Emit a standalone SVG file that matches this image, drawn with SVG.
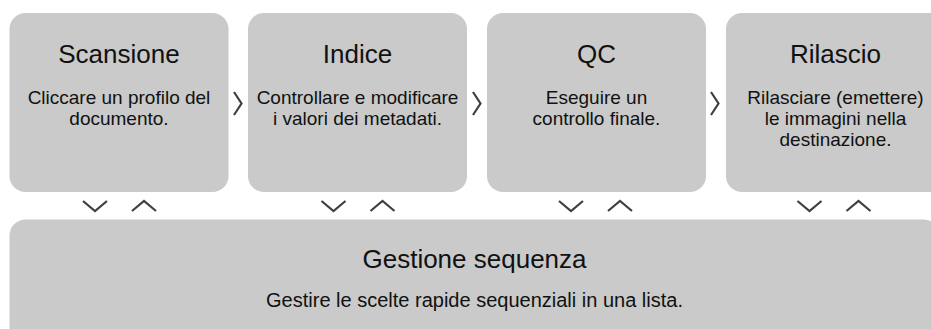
<svg xmlns="http://www.w3.org/2000/svg" width="931" height="329" viewBox="0 0 931 329">
<style>
.box{fill:#c9cac9}
.title{font-family:"Liberation Sans",Arial,sans-serif;font-size:26px;fill:#111;text-anchor:middle}
.body{font-family:"Liberation Sans",Arial,sans-serif;font-size:19px;fill:#111;text-anchor:middle}
.body2{font-family:"Liberation Sans",Arial,sans-serif;font-size:20px;fill:#111;text-anchor:middle}
.chev{fill:none;stroke:#3f3f3f;stroke-width:2.2}
</style>
<rect width="931" height="329" fill="#fff"/>
<g id="scansione">
<rect class="box" x="9.5" y="13" width="219" height="179" rx="16"/>
<text class="title" x="119" y="63">Scansione</text>
<text class="body" x="119" y="104">Cliccare un profilo del</text>
<text class="body" x="119" y="125">documento.</text>
</g>
<g id="indice">
<rect class="box" x="248" y="13" width="219" height="179" rx="16"/>
<text class="title" x="357.5" y="63">Indice</text>
<text class="body" x="357.5" y="104">Controllare e modificare</text>
<text class="body" x="357.5" y="125">i valori dei metadati.</text>
</g>
<g id="qc">
<rect class="box" x="487" y="13" width="219" height="179" rx="16"/>
<text class="title" x="596.5" y="63">QC</text>
<text class="body" x="596.5" y="104">Eseguire un</text>
<text class="body" x="596.5" y="125">controllo finale.</text>
</g>
<g id="rilascio">
<rect class="box" x="726" y="13" width="219" height="179" rx="16"/>
<text class="title" x="835.5" y="63">Rilascio</text>
<text class="body" x="835.5" y="104">Rilasciare (emettere)</text>
<text class="body" x="835.5" y="125">le immagini nella</text>
<text class="body" x="835.5" y="146">destinazione.</text>
</g>
<g id="gestione">
<rect class="box" x="9.5" y="219.5" width="930" height="130" rx="16"/>
<text class="title" x="474.5" y="268">Gestione sequenza</text>
<text class="body2" x="474.5" y="307">Gestire le scelte rapide sequenziali in una lista.</text>
</g>
<g id="connectors">
<polyline class="chev" points="234,92 241.5,103.5 234,115"/>
<polyline class="chev" points="473,92 480.5,103.5 473,115"/>
<polyline class="chev" points="711,92 718.5,103.5 711,115"/>
<polyline class="chev" points="83,201 95,211 107,201"/>
<polyline class="chev" points="132,211 144,201 156,211"/>
<polyline class="chev" points="321.5,201 333.5,211 345.5,201"/>
<polyline class="chev" points="370.5,211 382.5,201 394.5,211"/>
<polyline class="chev" points="559,201 571,211 583,201"/>
<polyline class="chev" points="608,211 620,201 632,211"/>
<polyline class="chev" points="797.5,201 809.5,211 821.5,201"/>
<polyline class="chev" points="846.5,211 858.5,201 870.5,211"/>
</g>
</svg>
